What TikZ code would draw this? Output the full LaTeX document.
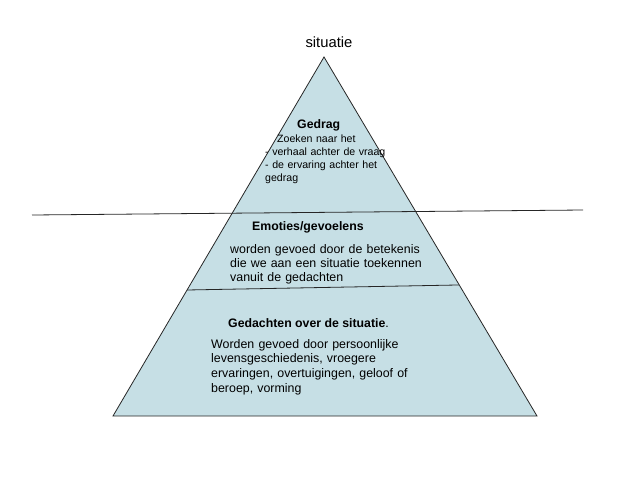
\documentclass[tikz,border=0pt]{standalone}
\usepackage{fontspec}
\setmainfont{Liberation Sans}
\usetikzlibrary{calc}
\definecolor{pyrblue}{RGB}{198,223,229}

\begin{document}
\begin{tikzpicture}[x=1pt,y=-1pt,
  body/.style={anchor=base west,inner sep=0pt,align=left,text width=220pt,font=\fontsize{12.4}{14.6}\selectfont},
  head/.style={anchor=base west,inner sep=0pt,font=\bfseries\fontsize{12.3}{14}\selectfont}]
  \useasboundingbox (0,0) rectangle (640,480);

  \coordinate (top) at (324,57);
  \coordinate (bl) at (113,416);
  \coordinate (br) at (537,416);

  \fill[pyrblue] (top)--(bl)--(br)--cycle;

  % water line and the line between emotions and thoughts
  \coordinate (wl) at (32,215);
  \coordinate (wr) at (583,210);
  \draw[line width=0.8pt,black!85] (wl)--(wr);
  \coordinate (ml) at ($(bl)!0.351!(top)$);
  \coordinate (mr) at ($(br)!0.365!(top)$);
  \draw[line width=0.8pt,black!85] (ml)--(mr);

  \draw[line width=0.8pt,black!85,line join=miter] (top)--(bl)--(br)--cycle;

  \node[anchor=base,inner sep=0pt,font=\fontsize{14.8}{17}\selectfont] (sit) at (329,47) {situatie};

  \node[head] (gedrag) at (297,128) {Gedrag};
  \node[body,font=\fontsize{10.6}{13.3}\selectfont] (gedragtxt) at (265,142)
    {\hspace*{12pt}Zoeken naar het\\- verhaal achter de vraag\\- de ervaring achter het\\gedrag};

  \node[head] (emo) at (252,230) {Emoties/gevoelens};
  \node[body,font=\fontsize{12.4}{14}\selectfont] (emotxt) at (230,253)
    {worden gevoed door de betekenis\\die we aan een situatie toekennen\\vanuit de gedachten};

  \node[head] (ged) at (228,327) {Gedachten over de situatie\textmd{.}};
  \node[body,font=\fontsize{12.4}{14.8}\selectfont] (gedtxt) at (211,348)
    {Worden gevoed door persoonlijke\\levensgeschiedenis, vroegere\\ervaringen, overtuigingen, geloof of\\beroep, vorming};
\end{tikzpicture}
\end{document}
